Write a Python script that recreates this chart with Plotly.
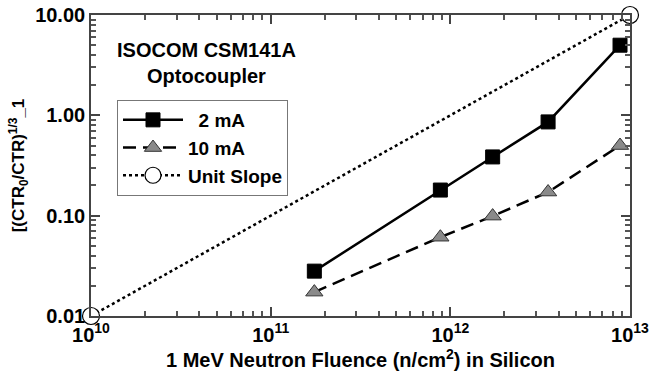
import plotly.graph_objects as go

fluence = [1.75e11, 8.8e11, 1.72e12, 3.5e12, 8.8e12]
y_2mA = [0.028, 0.18, 0.385, 0.86, 5.0]
y_10mA = [0.0173, 0.061, 0.099, 0.172, 0.50]
unit_x = [1e10, 1e13]
unit_y = [0.01, 10.0]

x_tickvals = [1e10, 1e11, 1e12, 1e13]
x_ticktext = ["10<sup>10</sup>", "10<sup>11</sup>", "10<sup>12</sup>", "10<sup>13</sup>"]
y_tickvals = [0.01, 0.1, 1, 10]
y_ticktext = ["0.01", "0.10", "1.00", "10.00"]
x_minor = [m * 10 ** e for e in (10, 11, 12) for m in range(2, 10)]
y_minor = [m * 10 ** e for e in (-2, -1, 0) for m in range(2, 10)]

FONT = "Liberation Sans, Arial, sans-serif"

fig = go.Figure()
fig.add_trace(go.Scatter(
    x=fluence, y=y_2mA, name="\u00a0\u00a02 mA", mode="lines+markers",
    line=dict(color="black", width=2.5),
    marker=dict(symbol="square", size=14, color="black", line=dict(color="black", width=1)),
))
fig.add_trace(go.Scatter(
    x=fluence, y=y_10mA, name="10 mA", mode="lines+markers",
    line=dict(color="black", width=2.5, dash="13px,7px"),
    marker=dict(symbol="triangle-up", size=15, color="#8a8a8a", line=dict(color="#333333", width=1)),
))
fig.add_trace(go.Scatter(
    x=unit_x, y=unit_y, name="Unit Slope", mode="lines+markers",
    line=dict(color="black", width=2.5, dash="dot"),
    marker=dict(symbol="circle", size=17, color="white", line=dict(color="black", width=1.2)),
    cliponaxis=False,
))

axis_common = dict(
    showline=True, linecolor="#444444", linewidth=1.6, mirror="ticks",
    ticks="inside", ticklen=9, tickcolor="#444444", tickwidth=2,
    showgrid=False, zeroline=False, automargin=False,
    ticklabeloverflow="allow",
    tickfont=dict(family=FONT, size=20, color="black", weight="bold"),
)

fig.update_layout(
    xaxis=dict(
        type="log", range=[10, 13], tickvals=x_tickvals, ticktext=x_ticktext,
        minor=dict(tickvals=x_minor, ticks="inside", ticklen=5,
                   tickcolor="#555555", tickwidth=1.5, showgrid=False),
        title=dict(text="<b>1 MeV Neutron Fluence (n/cm<sup>2</sup>) in Silicon</b>",
                   font=dict(family=FONT, size=20, color="black"), standoff=0),
        **axis_common,
    ),
    yaxis=dict(
        type="log", range=[-2, 1], tickvals=y_tickvals, ticktext=y_ticktext,
        minor=dict(tickvals=y_minor, ticks="inside", ticklen=5,
                   tickcolor="#555555", tickwidth=1.5, showgrid=False),
        title=dict(text="<b>[(CTR<sub>0</sub>/CTR)<sup>1/3</sup>_1</b>",
                   font=dict(family=FONT, size=17, color="black"), standoff=6),
        **axis_common,
    ),
)

fig.add_annotation(
    x=(206 - 91) / 539, y=1 - (63 - 15) / 301, xref="paper", yref="paper",
    xanchor="center", yanchor="middle", showarrow=False,
    text="<b>ISOCOM CSM141A<br>Optocoupler</b>", align="center",
    font=dict(family=FONT, size=20, color="black"),
)

fig.update_layout(
    width=649, height=378,
    margin=dict(l=91, r=19, t=15, b=62),
    plot_bgcolor="white", paper_bgcolor="white",
    showlegend=True,
    legend=dict(
        x=(117 - 91) / 539, y=1 - (100 - 15) / 301, xanchor="left", yanchor="top",
        bordercolor="#777777", borderwidth=1, bgcolor="white",
        font=dict(family=FONT, size=19, color="black", weight="bold"),
        itemwidth=60, tracegroupgap=0,
    ),
)

fig.write_html("out.html")
